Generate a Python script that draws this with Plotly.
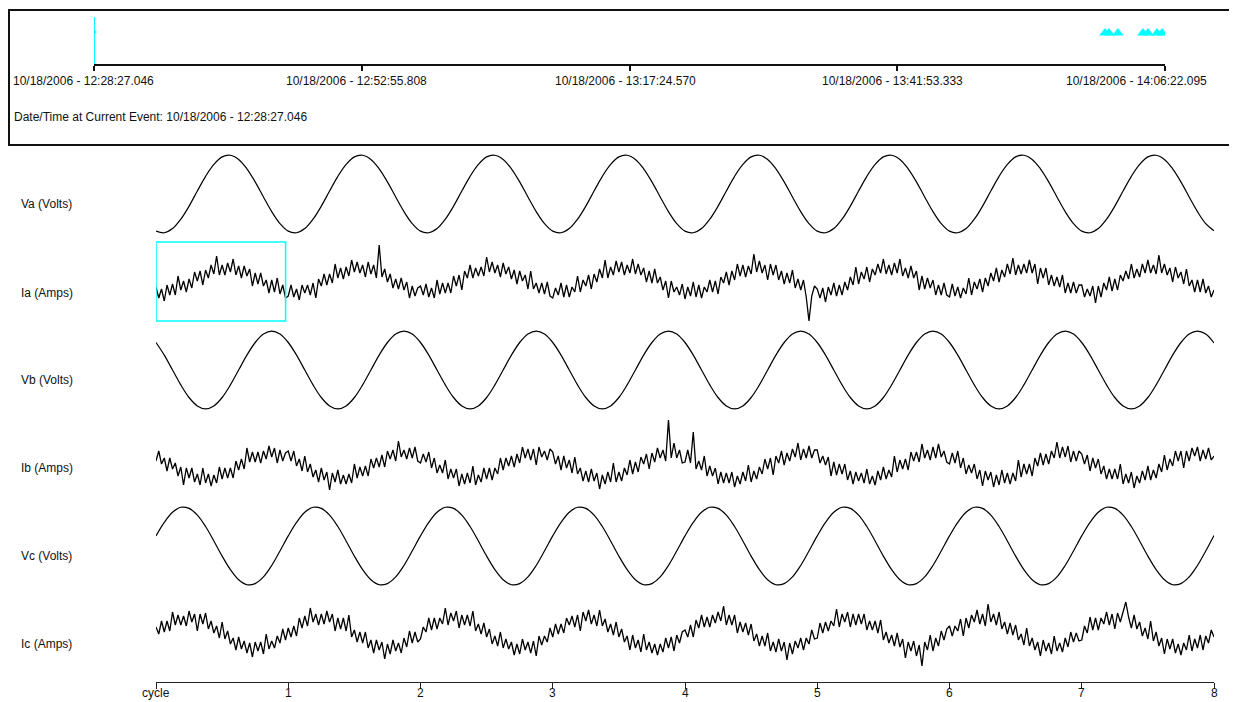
import plotly.graph_objects as go

# ---------------- data ----------------
cycle_ticks = ["cycle", "1", "2", "3", "4", "5", "6", "7", "8"]
cycle_tickvals = [0, 1, 2, 3, 4, 5, 6, 7, 8]
row_labels = ["Va (Volts)", "Ia (Amps)", "Vb (Volts)", "Ib (Amps)", "Vc (Volts)", "Ic (Amps)"]

timeline_labels = ["10/18/2006 - 12:28:27.046", "10/18/2006 - 12:52:55.808",
                   "10/18/2006 - 13:17:24.570", "10/18/2006 - 13:41:53.333",
                   "10/18/2006 - 14:06:22.095"]
timeline_seconds = [0, 1468.76, 2937.52, 4406.29, 5875.05]
event_text = "Date/Time at Current Event: 10/18/2006 - 12:28:27.046"
current_event_s = [0, 0]
current_event_h = [0, 0.96]
other_events_s = [5546, 5568, 5617, 5754, 5782, 5831, 5859]
other_events_h = [0.64, 0.64, 0.64, 0.64, 0.64, 0.64, 0.64]

VOLT_SPC = 16   # samples per cycle (voltage)
AMP_SPC = 48    # samples per cycle (current)

va = [-162, -169, -151, -110, -53, 13, 77, 129, 162, 169, 151, 110, 53, -13, -77, -129,
      -162, -169, -151, -110, -53, 13, 77, 129, 162, 169, 151, 110, 53, -13, -77, -129,
      -162, -169, -151, -110, -53, 13, 77, 129, 162, 169, 151, 110, 53, -13, -77, -129,
      -162, -169, -151, -110, -53, 13, 77, 129, 162, 169, 151, 110, 53, -13, -77, -129,
      -162, -169, -151, -110, -53, 13, 77, 129, 162, 169, 151, 110, 53, -13, -77, -129,
      -162, -169, -151, -110, -53, 13, 77, 129, 162, 169, 151, 110, 53, -13, -77, -129,
      -162, -169, -151, -110, -53, 13, 77, 129, 162, 169, 151, 110, 53, -13, -77, -129,
      -162, -169, -151, -110, -53, 13, 77, 129, 162, 169, 151, 110, 53, -13, -77, -129,
      -160]
vb = [120, 65, 0, -65, -120, -157, -170, -157, -120, -65, 0, 65, 120, 157, 170, 157,
      120, 65, 0, -65, -120, -157, -170, -157, -120, -65, 0, 65, 120, 157, 170, 157,
      120, 65, 0, -65, -120, -157, -170, -157, -120, -65, 0, 65, 120, 157, 170, 157,
      120, 65, 0, -65, -120, -157, -170, -157, -120, -65, 0, 65, 120, 157, 170, 157,
      120, 65, 0, -65, -120, -157, -170, -157, -120, -65, 0, 65, 120, 157, 170, 157,
      120, 65, 0, -65, -120, -157, -170, -157, -120, -65, 0, 65, 120, 157, 170, 157,
      120, 65, 0, -65, -120, -157, -170, -157, -120, -65, 0, 65, 120, 157, 170, 157,
      120, 65, 0, -65, -120, -157, -170, -157, -120, -65, 0, 65, 120, 157, 170, 157,
      118]
vc = [44, 103, 147, 169, 164, 135, 85, 22, -44, -103, -147, -169, -164, -135, -85, -22,
      44, 103, 147, 169, 164, 135, 85, 22, -44, -103, -147, -169, -164, -135, -85, -22,
      44, 103, 147, 169, 164, 135, 85, 22, -44, -103, -147, -169, -164, -135, -85, -22,
      44, 103, 147, 169, 164, 135, 85, 22, -44, -103, -147, -169, -164, -135, -85, -22,
      44, 103, 147, 169, 164, 135, 85, 22, -44, -103, -147, -169, -164, -135, -85, -22,
      44, 103, 147, 169, 164, 135, 85, 22, -44, -103, -147, -169, -164, -135, -85, -22,
      44, 103, 147, 169, 164, 135, 85, 22, -44, -103, -147, -169, -164, -135, -85, -22,
      44, 103, 147, 169, 164, 135, 85, 22, -44, -103, -147, -169, -164, -135, -85, -22,
      46]

ia = [-5, -16, -7, -19, -3, -13, -2, -13, 6, -8, 1, -10, 3, -6, 10, 1, 11, -3, 12, 4, 17, 8, 26, 7,
      17, 7, 19, 10, 23, 7, 16, 4, 16, 6, 13, -4, 9, -2, 9, -4, 2, -11, 2, -10, 4, -12, -3, -16,
      -14, -3, -15, -7, -18, -3, -11, -3, -13, -1, -16, 3, -4, 8, -3, 8, -1, 18, 4, 14, 3, 15, 6, 22,
      10, 20, 9, 17, 5, 20, 8, 17, 4, 37, 5, 13, 0, 8, -6, 3, -7, 4, -8, 0, -16, -4, -14, -6,
      -4, -13, -2, -15, -6, -16, 2, -12, -1, -11, -1, -11, 6, -4, 7, -8, 11, 4, 17, 4, 14, 6, 15, 6,
      25, 10, 20, 9, 17, 5, 19, 8, 15, 3, 12, -2, 11, 1, 7, -7, 11, -7, -1, -11, -1, -12, 0, -14,
      -16, -6, -13, -1, -15, -3, -15, -5, -10, 6, -10, 2, -4, 7, -7, 8, 0, 13, 4, 22, 4, 15, 7, 21,
      10, 20, 7, 17, 9, 23, 8, 18, 7, 14, 0, 11, -1, 13, -1, 5, -8, 1, -16, 1, -10, -5, -13, -2,
      -17, -5, -14, 0, -15, -3, -16, -5, -10, 2, -10, 1, -12, 5, -1, 10, -3, 11, 2, 18, 6, 17, 5, 16,
      8, 28, 10, 21, 9, 17, 2, 18, 7, 17, 2, 11, -2, 9, -1, 12, -6, 3, -8, 2, -15, -39, -14, -4,
      -7, -16, -6, -20, -5, -13, -1, -14, -3, -13, 0, -8, 5, -3, 15, -2, 10, 3, 15, 0, 13, 7, 18, 9,
      23, 8, 17, 7, 19, 9, 23, 6, 14, 4, 16, 4, 11, -8, 6, -7, 4, -6, 2, -13, -3, -13, -1, -13,
      -15, -2, -14, -5, -16, -6, -12, 4, -13, 0, -7, 3, -10, 4, -4, 9, 1, 14, 0, 12, 5, 18, 8, 24,
      7, 17, 8, 18, 9, 22, 9, 18, -2, 14, 4, 14, -3, 7, -4, 5, -5, 7, -11, -1, -11, 0, -11, -3,
      -3, -15, -7, -14, -4, -21, -4, -15, -1, -8, 5, -9, 3, -8, 7, 1, 11, 3, 18, 4, 13, 5, 18, 9,
      22, 9, 17, 8, 27, 9, 18, 7, 14, 0, 15, 4, 10, -2, 13, -4, 2, -10, 2, -10, 3, -11, -4, -15,
      -8]
ib = [-3, 7, -6, 0, -13, 0, -11, -5, -18, -9, -27, -10, -20, -10, -24, -16, -27, -10, -25, -16, -28, -17, -25, -9,
      -21, -10, -20, -10, -20, -3, -12, -1, -11, 10, -4, 6, -4, 6, -5, 7, -1, 12, 1, 10, -5, 8, -3, 5,
      7, -3, 7, -8, -1, -13, 2, -14, -6, -19, -12, -24, -10, -22, -14, -32, -15, -24, -12, -26, -17, -26, -16, -25,
      -6, -20, -9, -18, -8, -18, -1, -10, 0, -9, 3, -9, 7, -1, 8, -3, 17, 1, 8, -1, 10, 0, 11, -3,
      -5, 4, -4, 6, -10, 0, -15, -7, -15, -2, -21, -11, -20, -11, -28, -16, -26, -15, -25, -8, -27, -17, -24, -10,
      -21, -10, -22, -10, -16, 0, -12, 0, -8, 2, -9, 4, -5, 11, 0, 9, -2, 9, -7, 11, 1, 7, -2, 9,
      6, -6, 2, -12, 2, -10, -2, -15, 1, -16, -10, -23, -13, -24, -11, -23, -15, -31, -17, -26, -14, -24, -5, -24,
      -14, -23, -10, -17, -2, -16, -4, -14, 1, -6, 4, -11, 5, -4, 10, 0, 8, -3, 38, 0, 15, 0, 8, -5,
      -4, 8, -5, 26, -11, -3, -12, 2, -18, -8, -18, -10, -26, -14, -25, -15, -25, -14, -29, -18, -26, -14, -23, -7,
      -24, -13, -21, -9, -16, -1, -11, 0, -17, 2, -5, 7, -7, 5, -3, 9, 1, 15, -2, 9, 0, 12, 0, 8,
      8, -5, 2, -7, 1, -18, -4, -17, -6, -16, -6, -22, -13, -26, -14, -23, -15, -25, -11, -26, -18, -27, -13, -22,
      -9, -21, -12, -19, 2, -14, -2, -11, -1, -12, 6, -3, 6, -4, 14, 0, 8, -2, 11, 0, 14, 1, 7, -4,
      -6, 5, -5, 7, -10, 0, -16, -7, -15, -6, -21, -12, -28, -13, -22, -14, -29, -17, -27, -12, -25, -15, -26, -15,
      -23, -2, -19, -6, -16, -6, -18, 0, -8, 5, -7, 4, -6, 7, 0, 16, 0, 11, 1, 12, -4, 7, -3, 7,
      4, -6, 3, -13, 0, -10, -1, -16, -8, -21, -11, -21, -11, -21, -6, -26, -16, -25, -14, -30, -18, -25, -13, -22,
      -8, -22, -12, -20, -6, -14, 3, -12, -1, -8, 7, -3, 7, -10, 7, -3, 10, 2, 11, -3, 8, -1, 10, -2,
      2]
ic = [7, 0, 13, 2, 13, 3, 22, 9, 19, 9, 18, 8, 23, 12, 20, 3, 20, 10, 21, 5, 13, 1, 8, -4,
      12, -5, 3, -10, -4, -16, -3, -15, -7, -19, -9, -23, -8, -17, -8, -20, 0, -15, -7, -14, -2, -9, 5, -6,
      6, -3, 8, -2, 16, 6, 18, 8, 26, 12, 20, 9, 20, 10, 23, 12, 20, 3, 16, 5, 16, 3, 19, -3,
      4, -8, 2, -9, 2, -14, -6, -19, -6, -16, -8, -25, -10, -20, -6, -17, -9, -19, -4, -13, 3, -9, 2, -8,
      -5, 7, 2, 16, 4, 16, 5, 16, 10, 26, 9, 21, 13, 23, 6, 19, 9, 19, 8, 23, 3, 10, 0, 11,
      -3, 5, -10, -2, -12, 2, -14, -5, -15, -8, -21, -10, -20, -5, -16, -8, -19, -7, -22, -2, -11, -2, -8, 6,
      -3, 10, 0, 10, 1, 16, 9, 18, 7, 19, 3, 22, 13, 24, 10, 19, 8, 24, 8, 15, 2, 10, -1, 12,
      -3, 5, -8, -2, -16, -1, -14, -6, -18, 0, -16, -8, -19, -10, -21, -10, -18, -4, -14, -3, -17, -1, -9, 2,
      4, -3, 9, -3, 14, 6, 19, 7, 17, 7, 19, 11, 22, 13, 28, 9, 19, 9, 19, 1, 12, 2, 11, -1,
      10, -7, 0, -12, -2, -12, 1, -17, -8, -18, -5, -17, -8, -26, -9, -20, -7, -14, -4, -16, -4, -10, 4, -5,
      -4, 11, 1, 12, 3, 13, 8, 25, 7, 20, 12, 22, 7, 20, 9, 20, 10, 20, 4, 13, 4, 13, 1, 14,
      -6, 2, -9, -1, -12, 1, -13, -5, -24, -8, -17, -7, -22, -11, -32, -8, -16, -1, -17, -4, -12, 3, -6, 5,
      8, -2, 8, 3, 15, -2, 16, 6, 19, 12, 24, 10, 20, 8, 30, 12, 20, 9, 22, 5, 12, 0, 11, -1,
      9, -6, 0, -11, 6, -12, -4, -16, -8, -22, -6, -17, -9, -20, -2, -17, -9, -18, -4, -13, 2, -8, 1, -7,
      -6, 8, 1, 17, 4, 16, 4, 16, 10, 22, 9, 20, 5, 21, 12, 21, 32, 17, 6, 19, 5, 12, -2, 6,
      -5, 13, -7, 2, -12, -4, -20, -5, -15, -5, -19, -10, -21, -9, -16, -1, -17, -5, -14, -1, -16, -2, -9, 4,
      -3]

# highlighted (zoom) window on Ia, in cycles
hilite_cycles = [0, 0.98]
hilite_amps = [-39, 40]

# ---------------- layout helpers ----------------
PAGE_OFF = 8                 # default page margin of the html body
W, H = 1237 - PAGE_OFF, 702 - PAGE_OFF
FONT = "Arial, 'Liberation Sans', sans-serif"


def px(xp):
    return (xp - PAGE_OFF) / W


def py(yp):
    return 1 - (yp - PAGE_OFF) / H


row_tops = [150, 238, 326, 414, 502, 590]
ROW_H = 88
row_label_y = [204, 293, 380, 468, 556, 644]

series = [(va, VOLT_SPC, "spline", 192), (ia, AMP_SPC, "linear", 44),
          (vb, VOLT_SPC, "spline", 192), (ib, AMP_SPC, "linear", 44),
          (vc, VOLT_SPC, "spline", 192), (ic, AMP_SPC, "linear", 44)]

fig = go.Figure()
layout = dict(
    width=W, height=H,
    margin=dict(l=0, r=0, t=0, b=0, autoexpand=False),
    paper_bgcolor="white", plot_bgcolor="white",
    showlegend=False,
    font=dict(family=FONT, size=12, color="#111"),
    xaxis=dict(domain=[px(156), px(1214)], range=[0, 8], anchor="free",
               position=py(682), showline=True, linecolor="#222", linewidth=1,
               ticks="outside", ticklen=6, tickcolor="#222", tickwidth=1,
               tickvals=cycle_tickvals, showticklabels=False, showgrid=False,
               zeroline=False, automargin=False),
    xaxis2=dict(domain=[px(94), px(1165)], range=[0, timeline_seconds[-1]],
                anchor="free", position=py(65), showline=True, linecolor="#111",
                linewidth=2, ticks="outside", ticklen=5, tickwidth=2, tickcolor="#111",
                tickvals=timeline_seconds, showticklabels=False, showgrid=False,
                zeroline=False, automargin=False),
)

for i, (vals, spc, shape, rng) in enumerate(series):
    yname = "y" if i == 0 else f"y{i + 1}"
    axname = "yaxis" if i == 0 else f"yaxis{i + 1}"
    top = row_tops[i]
    layout[axname] = dict(domain=[py(top + ROW_H), py(top)], range=[-rng, rng],
                          visible=False, fixedrange=True, anchor="x", automargin=False)
    fig.add_trace(go.Scatter(
        x0=0, dx=1.0 / spc, y=vals, mode="lines", xaxis="x", yaxis=yname,
        line=dict(color="black", width=1.2 if shape == "spline" else 1.3,
                  shape=shape), hoverinfo="skip"))

layout["yaxis7"] = dict(domain=[py(65), py(15)], range=[0, 1], visible=False,
                        anchor="x2", automargin=False)

# timeline events
fig.add_trace(go.Scatter(x=current_event_s, y=current_event_h, mode="lines",
                         xaxis="x2", yaxis="y7",
                         line=dict(color="#00FFFF", width=2), hoverinfo="skip"))
fig.add_trace(go.Scatter(x=[current_event_s[0]], y=[0.66], mode="markers",
                         xaxis="x2", yaxis="y7",
                         marker=dict(symbol="triangle-right", size=6, color="#00FFFF"),
                         hoverinfo="skip"))
fig.add_trace(go.Scatter(x=other_events_s, y=other_events_h, mode="markers",
                         xaxis="x2", yaxis="y7",
                         marker=dict(symbol="triangle-up", size=10, color="#00FFFF",
                                     line=dict(width=0)),
                         hoverinfo="skip"))

fig.update_layout(**layout)

# top panel frame
fig.add_shape(type="rect", xref="paper", yref="paper", x0=px(9), x1=px(1242),
              y0=py(145), y1=py(10), line=dict(color="#111", width=2),
              fillcolor="rgba(0,0,0,0)", layer="below")

# highlight window on Ia
fig.add_shape(type="rect", xref="x", yref="y2", x0=hilite_cycles[0], x1=hilite_cycles[1],
              y0=hilite_amps[0], y1=hilite_amps[1], line=dict(color="#00FFFF", width=1.5))

# cycle axis labels
for val, lab in zip(cycle_tickvals, cycle_ticks):
    fig.add_annotation(text=lab, xref="x", yref="paper", x=val, y=py(693),
                       xanchor="center", yanchor="middle", showarrow=False,
                       font=dict(family=FONT, size=12, color="#111"))

# timeline labels
label_centers = [83.5, 356, 626, 892, 1136]
for lab, cx in zip(timeline_labels, label_centers):
    fig.add_annotation(text=lab, xref="paper", yref="paper", x=px(cx), y=py(81),
                       xanchor="center", yanchor="middle", showarrow=False,
                       font=dict(family=FONT, size=12, color="#111"))
fig.add_annotation(text=event_text, xref="paper", yref="paper", x=px(12), y=py(117),
                   xanchor="left", yanchor="middle", showarrow=False,
                   font=dict(family=FONT, size=12, color="#111"))

# row labels
for lab, ly in zip(row_labels, row_label_y):
    fig.add_annotation(text=lab, xref="paper", yref="paper", x=px(19), y=py(ly),
                       xanchor="left", yanchor="middle", showarrow=False,
                       font=dict(family=FONT, size=12, color="#111"))

fig.write_html("out.html")
